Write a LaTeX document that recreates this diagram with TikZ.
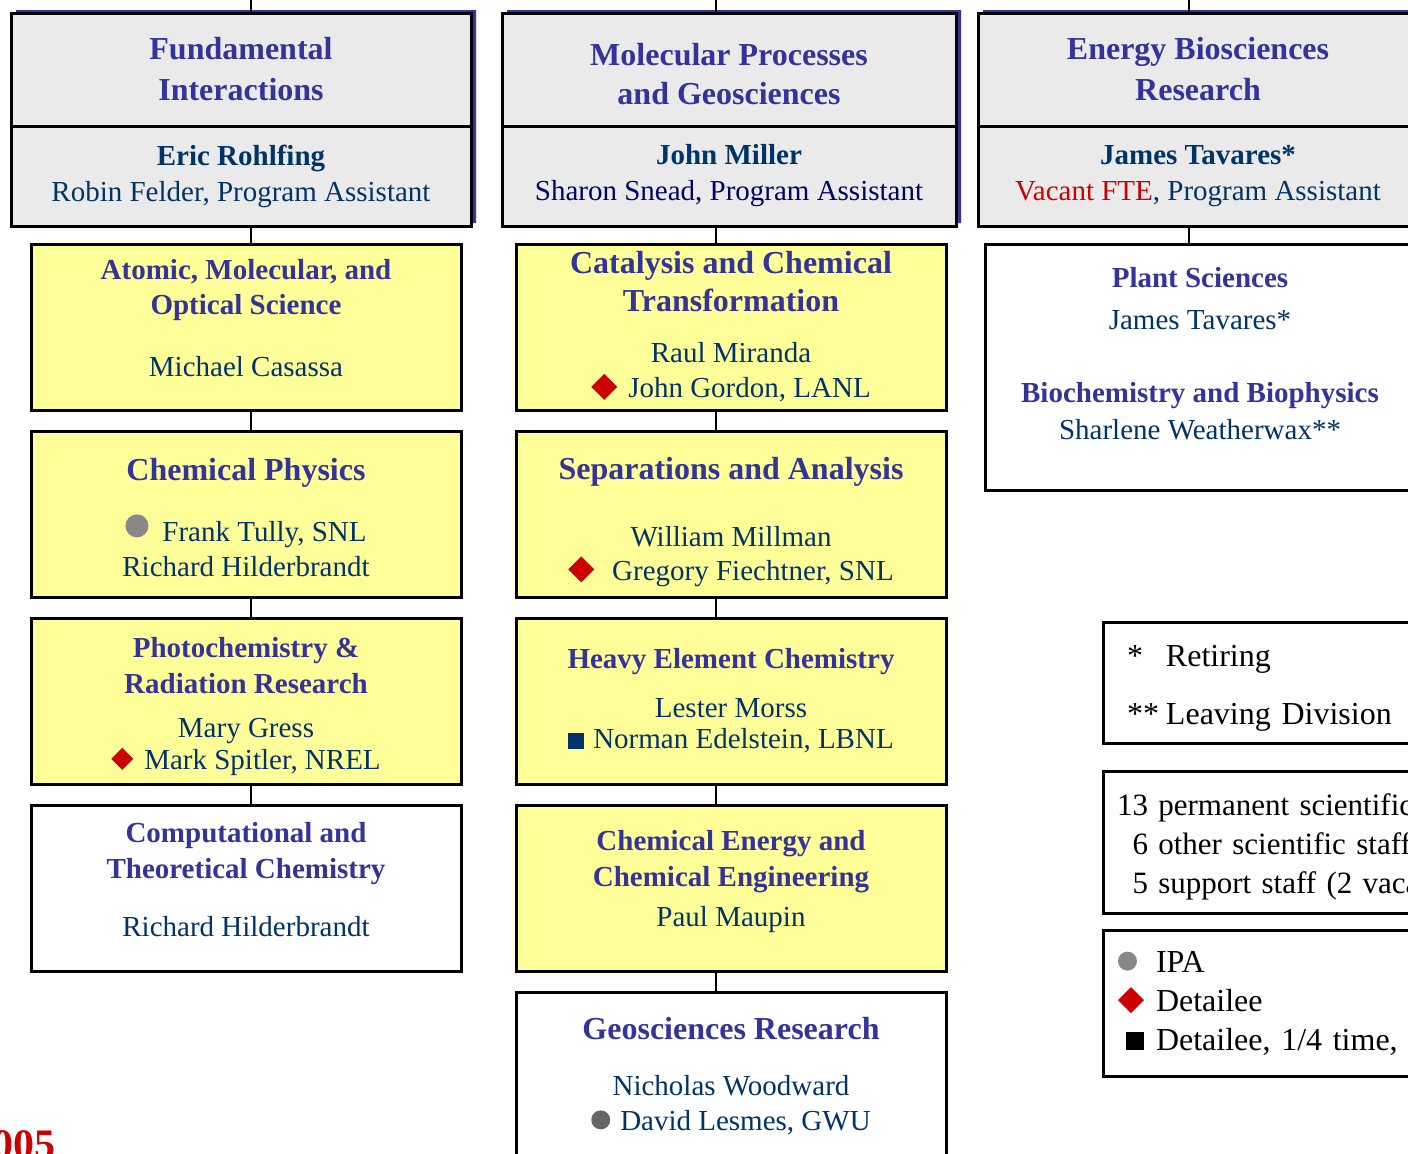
\documentclass[tikz,border=0pt]{standalone}
\usepackage{fontspec}
\setmainfont{Liberation Serif}
\usepackage{tikz}
\usetikzlibrary{positioning}
\usetikzlibrary{shapes.multipart}
\usetikzlibrary{shadows}

\definecolor{ttlblue}{HTML}{333399}
\definecolor{navy}{HTML}{003366}
\definecolor{darknavy}{HTML}{000066}
\definecolor{hdrgray}{HTML}{EAEAEA}
\definecolor{boxyellow}{HTML}{FFFF99}
\definecolor{detred}{HTML}{CC0000}
\definecolor{ipagray}{HTML}{888888}
\definecolor{lesmesgray}{HTML}{666666}

\newcommand{\smsz}{\fontsize{14.5}{17.5}\selectfont}
\newcommand{\bigsz}{\fontsize{16}{19.5}\selectfont}
\newcommand{\hd}[1]{{\bfseries\color{ttlblue}#1}}
\newcommand{\hdL}[1]{{\bigsz\bfseries\color{ttlblue}#1}}
\newcommand{\hdrtop}[3][0pt]{\parbox[c][55pt][c]{#2}{\vspace*{#1}\centering\fontsize{16}{20.5}\selectfont\bfseries\textcolor{ttlblue}{#3}}}
\newcommand{\hdrbot}[2]{\parbox[c][48.5pt][c]{#1}{\centering\fontsize{14.5}{18}\selectfont\textcolor{navy}{#2}}}
% markers: IPA dot, detailee diamond, quarter-time square
\newcommand{\ipadot}[3]{\tikz[baseline=0pt]\fill[#1] (0pt,#3) circle[radius=#2];}
\newcommand{\detdot}[1]{\tikz[baseline=0pt]\fill[detred] (0pt,5.5pt) ++(-#1,0pt) -- ++(#1,#1) -- ++(#1,-#1) -- ++(-#1,-#1) -- cycle;}
\newcommand{\quartsq}[2]{\tikz[baseline=0pt]\fill[#1] (0pt,0pt) rectangle (#2,#2);}

\tikzstyle{hdrbox} = [rectangle split, rectangle split parts=2, draw, line width=1.5pt, fill=hdrgray, inner sep=0pt, outer sep=0pt, drop shadow={shadow xshift=2.5pt, shadow yshift=1.5pt, fill=ttlblue, opacity=1}]
\tikzstyle{unitbox} = [rectangle, draw, line width=1.5pt, fill=boxyellow, minimum width=215pt, minimum height=83pt, inner sep=0pt, outer sep=0pt, align=center, font=\smsz, text=navy]
\tikzstyle{keybox} = [rectangle, draw, line width=1.5pt, fill=white, inner ysep=0pt, outer sep=0pt, align=left, font=\bigsz, text=black]
\tikzstyle{link} = [draw, line width=1pt]

\begin{document}
\begin{tikzpicture}[x=0.5pt, y=-0.5pt, node distance=10.5pt]
  \useasboundingbox (0,0) rectangle (1408,1153);
  \clip (0,0) rectangle (1408,1153);
  % Spines
  \coordinate (sp1) at (251,0);
  \coordinate (sp2) at (716,0);
  \coordinate (sp3) at (1189,0);
  % Team leads
  \node [hdrbox, anchor=north west] (fund) at (11,13)
    {\hdrtop{230pt}{Fundamental\\Interactions}\nodepart{two}\hdrbot{230pt}{\textbf{Eric Rohlfing}\\Robin Felder, Program Assistant}};
  \node [hdrbox, right=15.5pt of fund] (molec)
    {\hdrtop[5pt]{227pt}{Molecular Processes\\[-1pt]and Geosciences}\nodepart{two}\hdrbot{227pt}{\textbf{John Miller}\\\textcolor{darknavy}{Sharon Snead, Program Assistant}}};
  \node [hdrbox, right=11pt of molec] (bio)
    {\hdrtop{220pt}{Energy Biosciences\\Research}\nodepart{two}\hdrbot{220pt}{\textbf{James Tavares*}\\\textcolor{detred}{Vacant FTE}, Program Assistant}};
  % Fundamental Interactions programs
  \node [unitbox, below=9pt of fund, xshift=2.5pt] (amo)
    {\hd{Atomic, Molecular, and}\\\hd{Optical Science}\\[13.5pt]Michael Casassa\\[-8pt]\mbox{}};
  \node [unitbox, below=of amo] (chph)
    {\rule{0pt}{15pt}\hdL{Chemical Physics}\\[13pt]\ipadot{ipagray}{5.75pt}{8pt}\hspace{7pt}Frank Tully, SNL\\Richard Hilderbrandt};
  \node [unitbox, below=of chph] (photo)
    {\rule{0pt}{16pt}\hd{Photochemistry \&}\\[0.5pt]\hd{Radiation Research}\\[4.5pt]Mary Gress\\[-1.5pt]\detdot{5.5pt}\hspace{5.5pt}Mark Spitler, NREL};
  \node [unitbox, below=of photo, fill=white] (theo)
    {\hd{Computational and}\\[0.5pt]\hd{Theoretical Chemistry}\\[11.5pt]Richard Hilderbrandt\\[-9pt]\mbox{}};
  % Molecular Processes programs
  \node [unitbox, below=9pt of molec, xshift=1pt] (catal)
    {\hdL{Catalysis and Chemical}\\[1.5pt]\hdL{Transformation}\\[8pt]Raul Miranda\\\detdot{6.5pt}\hspace{5.5pt}John Gordon, LANL};
  \node [unitbox, below=of catal] (separ)
    {\rule{0pt}{19pt}\hdL{Separations and Analysis}\\[16pt]William Millman\\[-0.5pt]\detdot{6.5pt}\hspace{9pt}Gregory Fiechtner, SNL};
  \node [unitbox, below=of separ] (heavy)
    {\hd{Heavy Element Chemistry}\\[7pt]Lester Morss\\[-2pt]\quartsq{navy}{8pt}\hspace{4.5pt}Norman Edelstein, LBNL};
  \node [unitbox, below=of heavy] (cheng)
    {\hd{Chemical Energy and}\\[0.5pt]\hd{Chemical Engineering}\\[2.5pt]Paul Maupin\\[-8pt]\mbox{}};
  \node [unitbox, below=of cheng, fill=white, minimum height=84.5pt] (geo)
    {\hdL{Geosciences Research}\\[10.5pt]Nicholas Woodward\\\ipadot{lesmesgray}{4.75pt}{5.5pt}\hspace{5pt}David Lesmes, GWU};
  % Energy Biosciences programs
  \node [unitbox, below=9pt of bio, xshift=1pt, fill=white, minimum height=123pt] (plant)
    {\hd{Plant Sciences}\\[3.5pt]James Tavares*\\[19pt]\hd{Biochemistry and Biophysics}\\[1pt]Sharlene Weatherwax**\\[-4pt]\mbox{}};
  % Keys
  \node [keybox, anchor=north west, inner xsep=12pt, text width=150pt, minimum height=60.5pt] (keystar) at (1103,622)
    {\rule{0pt}{16pt}\makebox[19.5pt][l]{*}Retiring\\[9.5pt]\makebox[19.5pt][l]{**}Leaving Division};
  \node [keybox, below=14pt of keystar.south west, anchor=north west, inner xsep=7pt, text width=170pt, minimum height=71pt, font=\fontsize{15.5}{19.5}\selectfont] (keystaff)
    {\rule{0pt}{16pt}13 permanent scientific\\\phantom{1}6 other scientific staff\\\phantom{1}5 support staff (2 vaca};
  \node [keybox, below=8.5pt of keystaff.south west, anchor=north west, inner xsep=7.5pt, text width=170pt, minimum height=73pt] (keysym)
    {\makebox[19pt][l]{\ipadot{ipagray}{4.75pt}{5.5pt}}IPA\\\makebox[19pt][l]{\detdot{6.5pt}}Detailee\\\makebox[19pt][l]{\hspace{4pt}\quartsq{black}{9pt}}Detailee, 1/4 time, r};
  \node [anchor=base west, inner sep=0pt, text=detred, font=\fontsize{21}{25}\selectfont\bfseries] (year) at (-8,1158) {005};
  % Draw edges
  \foreach \h/\s in {fund/sp1, molec/sp2, bio/sp3}
    \path [link] (\s) -- (\h.north -| \s);
  \foreach \u/\l in {fund/amo, amo/chph, chph/photo, photo/theo}
    \path [link] (\u.south -| sp1) -- (\l.north -| sp1);
  \foreach \u/\l in {molec/catal, catal/separ, separ/heavy, heavy/cheng, cheng/geo}
    \path [link] (\u.south -| sp2) -- (\l.north -| sp2);
  \path [link] (bio.south -| sp3) -- (plant.north -| sp3);
\end{tikzpicture}
\end{document}
